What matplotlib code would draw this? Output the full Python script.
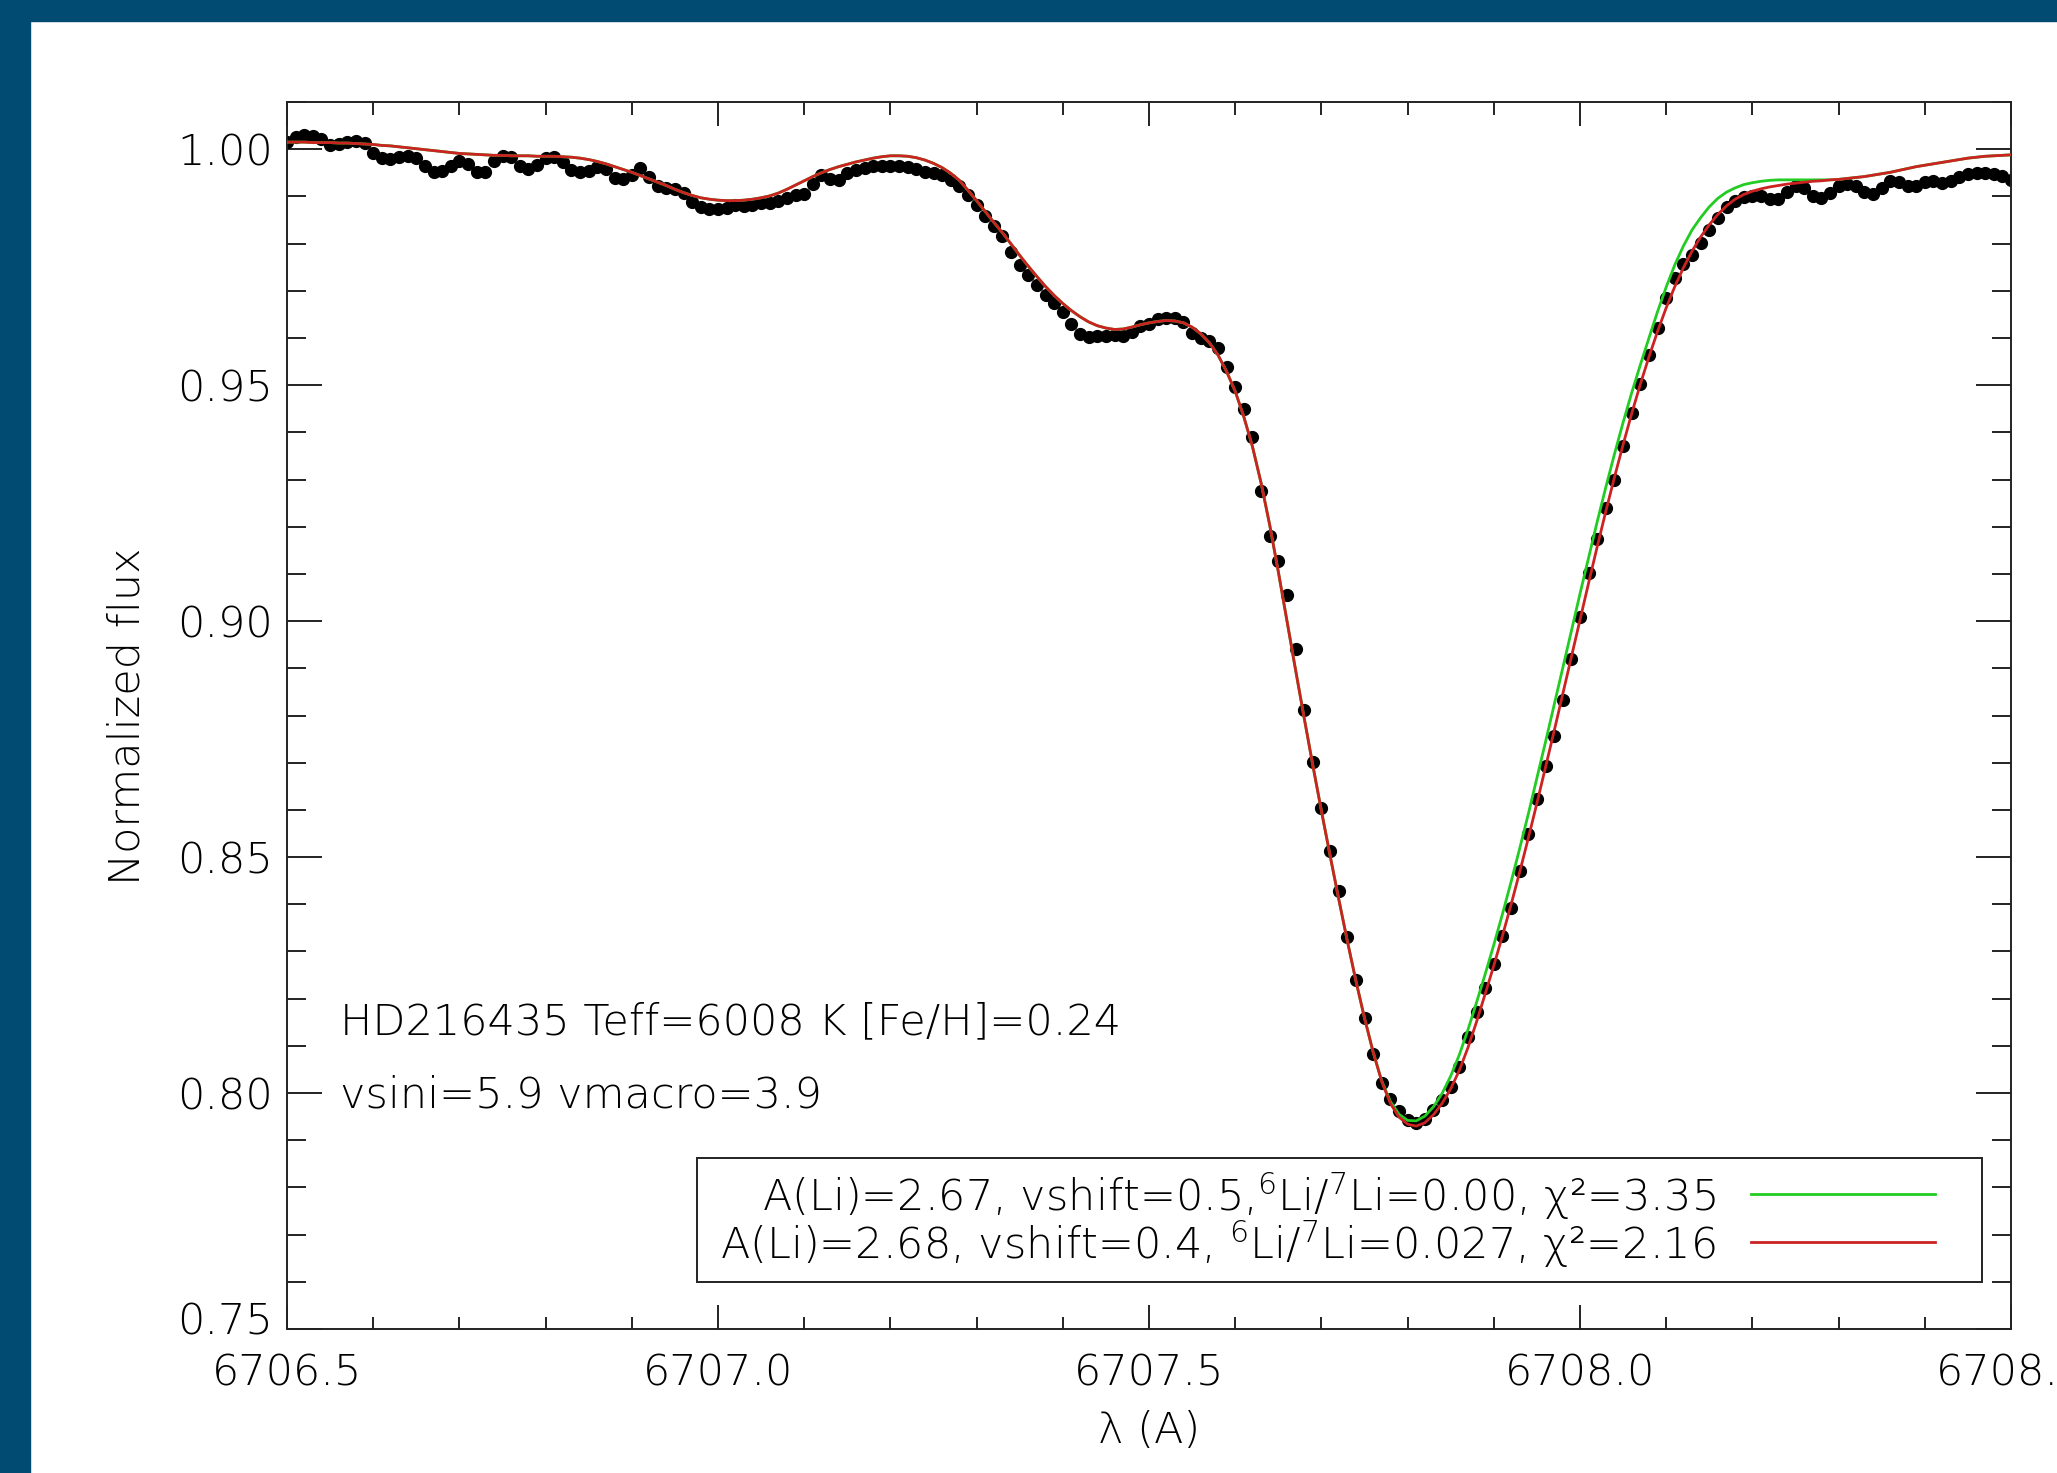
import numpy as np
import matplotlib.pyplot as plt
from matplotlib.patches import Rectangle
from matplotlib.ticker import MultipleLocator, FormatStrFormatter
from matplotlib.transforms import ScaledTranslation

plt.rcParams['font.family'] = ['DejaVu Sans']
plt.rcParams['font.weight'] = 'light'
plt.rcParams['mathtext.fontset'] = 'custom'
plt.rcParams['mathtext.rm'] = 'DejaVu Sans:light'
plt.rcParams['mathtext.it'] = 'DejaVu Sans:italic'
plt.rcParams['mathtext.bf'] = 'DejaVu Sans:bold'

# wavelength grid of the spectrum (Angstrom)
wave_start = 6706.50
wave_step = 0.01

# observed normalized flux, 6706.50 ... 6708.50
obs_flux = [
    1.0016, 1.0026, 1.0030, 1.0028, 1.0022, 1.0008, 1.0010, 1.0016, 1.0018, 1.0014,
    0.9991, 0.9981, 0.9979, 0.9984, 0.9986, 0.9982, 0.9964, 0.9951, 0.9953, 0.9964,
    0.9974, 0.9968, 0.9952, 0.9951, 0.9974, 0.9986, 0.9984, 0.9964, 0.9958, 0.9966,
    0.9981, 0.9984, 0.9972, 0.9956, 0.9951, 0.9954, 0.9962, 0.9958, 0.9940, 0.9936,
    0.9946, 0.9960, 0.9942, 0.9921, 0.9917, 0.9916, 0.9908, 0.9889, 0.9878, 0.9874,
    0.9873, 0.9876, 0.9881, 0.9880, 0.9882, 0.9885, 0.9887, 0.9891, 0.9896, 0.9902,
    0.9906, 0.9926, 0.9946, 0.9936, 0.9934, 0.9950, 0.9955, 0.9960, 0.9964, 0.9965,
    0.9965, 0.9965, 0.9963, 0.9958, 0.9952, 0.9950, 0.9946, 0.9935, 0.9922, 0.9903,
    0.9882, 0.9858, 0.9837, 0.9815, 0.9783, 0.9755, 0.9733, 0.9712, 0.9692, 0.9674,
    0.9656, 0.9630, 0.9608, 0.9602, 0.9604, 0.9605, 0.9606, 0.9605, 0.9612, 0.9625,
    0.9630, 0.9640, 0.9642, 0.9642, 0.9634, 0.9610, 0.9600, 0.9594, 0.9578, 0.9538,
    0.9497, 0.9450, 0.9390, 0.9275, 0.9180, 0.9128, 0.9055, 0.8940, 0.8812, 0.8702,
    0.8604, 0.8512, 0.8428, 0.8330, 0.8240, 0.8160, 0.8082, 0.8022, 0.7988, 0.7962,
    0.7943, 0.7936, 0.7945, 0.7963, 0.7985, 0.8013, 0.8055, 0.8118, 0.8171, 0.8222,
    0.8274, 0.8333, 0.8393, 0.8470, 0.8549, 0.8623, 0.8692, 0.8756, 0.8833, 0.8920,
    0.9009, 0.9101, 0.9175, 0.9240, 0.9300, 0.9372, 0.9440, 0.9502, 0.9563, 0.9622,
    0.9684, 0.9728, 0.9756, 0.9776, 0.9801, 0.9829, 0.9855, 0.9878, 0.9891, 0.9898,
    0.9900, 0.9900, 0.9895, 0.9895, 0.9909, 0.9921, 0.9917, 0.9900, 0.9896, 0.9908,
    0.9921, 0.9926, 0.9922, 0.9909, 0.9904, 0.9917, 0.9933, 0.9930, 0.9921, 0.9922,
    0.9931, 0.9932, 0.9928, 0.9932, 0.9941, 0.9947, 0.9950, 0.9950, 0.9948, 0.9943,
    0.9935,
]

# synthetic fit with 6Li/7Li=0.027 (red)
fit_li6 = [
    1.0015, 1.0015, 1.0015, 1.0014, 1.0014, 1.0014, 1.0013, 1.0013, 1.0012, 1.0011,
    1.0010, 1.0008, 1.0007, 1.0005, 1.0003, 1.0001, 0.9999, 0.9997, 0.9995, 0.9993,
    0.9991, 0.9990, 0.9989, 0.9988, 0.9987, 0.9987, 0.9986, 0.9986, 0.9986, 0.9985,
    0.9985, 0.9985, 0.9984, 0.9983, 0.9981, 0.9978, 0.9974, 0.9969, 0.9963, 0.9957,
    0.9951, 0.9944, 0.9937, 0.9930, 0.9923, 0.9915, 0.9908, 0.9902, 0.9897, 0.9894,
    0.9892, 0.9891, 0.9891, 0.9892, 0.9894, 0.9897, 0.9901, 0.9907, 0.9915, 0.9924,
    0.9933, 0.9942, 0.9950, 0.9957, 0.9963, 0.9968, 0.9973, 0.9977, 0.9981, 0.9984,
    0.9986, 0.9986, 0.9985, 0.9982, 0.9977, 0.9970, 0.9961, 0.9949, 0.9934, 0.9913,
    0.9891, 0.9868, 0.9845, 0.9823, 0.9799, 0.9775, 0.9752, 0.9730, 0.9709, 0.9690,
    0.9673, 0.9658, 0.9645, 0.9634, 0.9626, 0.9621, 0.9618, 0.9619, 0.9623, 0.9628,
    0.9632, 0.9635, 0.9637, 0.9636, 0.9632, 0.9623, 0.9609, 0.9590, 0.9564, 0.9529,
    0.9487, 0.9433, 0.9370, 0.9293, 0.9204, 0.9105, 0.9001, 0.8897, 0.8795, 0.8695,
    0.8598, 0.8504, 0.8412, 0.8323, 0.8238, 0.8159, 0.8087, 0.8024, 0.7978, 0.7949,
    0.7934, 0.7930, 0.7937, 0.7954, 0.7978, 0.8009, 0.8048, 0.8096, 0.8151, 0.8210,
    0.8270, 0.8333, 0.8399, 0.8468, 0.8540, 0.8614, 0.8690, 0.8767, 0.8845, 0.8924,
    0.9003, 0.9081, 0.9158, 0.9233, 0.9305, 0.9374, 0.9440, 0.9502, 0.9560, 0.9614,
    0.9664, 0.9709, 0.9749, 0.9784, 0.9814, 0.9840, 0.9862, 0.9880, 0.9894, 0.9904,
    0.9911, 0.9916, 0.9920, 0.9923, 0.9926, 0.9928, 0.9930, 0.9932, 0.9933, 0.9935,
    0.9936, 0.9938, 0.9940, 0.9942, 0.9945, 0.9948, 0.9951, 0.9955, 0.9959, 0.9963,
    0.9966, 0.9969, 0.9972, 0.9975, 0.9978, 0.9981, 0.9983, 0.9985, 0.9986, 0.9987,
    0.9988,
]

# synthetic fit without 6Li (green)
fit_li7 = [
    1.0015, 1.0015, 1.0015, 1.0014, 1.0014, 1.0014, 1.0013, 1.0013, 1.0012, 1.0011,
    1.0010, 1.0008, 1.0007, 1.0005, 1.0003, 1.0001, 0.9999, 0.9997, 0.9995, 0.9993,
    0.9991, 0.9990, 0.9989, 0.9988, 0.9987, 0.9987, 0.9986, 0.9986, 0.9986, 0.9985,
    0.9985, 0.9985, 0.9984, 0.9983, 0.9981, 0.9978, 0.9974, 0.9969, 0.9963, 0.9957,
    0.9951, 0.9944, 0.9937, 0.9930, 0.9923, 0.9915, 0.9908, 0.9902, 0.9897, 0.9894,
    0.9892, 0.9891, 0.9891, 0.9892, 0.9894, 0.9897, 0.9901, 0.9907, 0.9915, 0.9924,
    0.9933, 0.9942, 0.9950, 0.9957, 0.9963, 0.9968, 0.9973, 0.9977, 0.9981, 0.9984,
    0.9986, 0.9986, 0.9985, 0.9982, 0.9977, 0.9970, 0.9961, 0.9949, 0.9934, 0.9913,
    0.9891, 0.9868, 0.9845, 0.9823, 0.9799, 0.9775, 0.9752, 0.9730, 0.9709, 0.9690,
    0.9673, 0.9658, 0.9645, 0.9634, 0.9626, 0.9621, 0.9618, 0.9619, 0.9623, 0.9628,
    0.9632, 0.9635, 0.9637, 0.9636, 0.9632, 0.9623, 0.9609, 0.9590, 0.9564, 0.9529,
    0.9487, 0.9433, 0.9370, 0.9293, 0.9204, 0.9105, 0.9001, 0.8897, 0.8795, 0.8695,
    0.8598, 0.8504, 0.8412, 0.8323, 0.8238, 0.8159, 0.8087, 0.8026, 0.7982, 0.7955,
    0.7942, 0.7941, 0.7951, 0.7971, 0.7999, 0.8036, 0.8081, 0.8134, 0.8192, 0.8252,
    0.8314, 0.8379, 0.8447, 0.8518, 0.8591, 0.8667, 0.8744, 0.8822, 0.8900, 0.8979,
    0.9058, 0.9135, 0.9211, 0.9284, 0.9354, 0.9421, 0.9484, 0.9543, 0.9600, 0.9656,
    0.9708, 0.9755, 0.9795, 0.9829, 0.9855, 0.9878, 0.9896, 0.9909, 0.9918, 0.9925,
    0.9929, 0.9932, 0.9934, 0.9935, 0.9935, 0.9935, 0.9935, 0.9935, 0.9935, 0.9935,
    0.9936, 0.9938, 0.9940, 0.9942, 0.9945, 0.9948, 0.9951, 0.9955, 0.9959, 0.9963,
    0.9966, 0.9969, 0.9972, 0.9975, 0.9978, 0.9981, 0.9983, 0.9985, 0.9986, 0.9987,
    0.9988,
]

star_info = "HD216435 Teff=6008 K [Fe/H]=0.24"
broadening_info = "vsini=5.9 vmacro=3.9"
label_li7 = "A(Li)=2.67, vshift=0.5,$^{6}$Li/$^{7}$Li=0.00, χ²=3.35"
label_li6 = "A(Li)=2.68, vshift=0.4, $^{6}$Li/$^{7}$Li=0.027, χ²=2.16"

wave = wave_start + wave_step * np.arange(len(obs_flux))

W, H = 2057, 1473
fig = plt.figure(figsize=(W / 100, H / 100), dpi=100)
fig.patch.set_facecolor('white')

# dark blue slide frame (top and left)
frame_blue = '#014b73'
fig.add_artist(Rectangle((0, 1 - 21 / H), 1, 21 / H, transform=fig.transFigure,
                         color=frame_blue, zorder=0))
fig.add_artist(Rectangle((0, 0), 30 / W, 1, transform=fig.transFigure,
                         color=frame_blue, zorder=0))

ax = fig.add_axes([287 / W, 1 - 1329 / H, 1724 / W, 1227 / H])
ax.plot(wave, obs_flux, 'o', color='black', ms=8.5, zorder=2)
ax.plot(wave, fit_li7, color='#22cc22', lw=2.0, zorder=3)
ax.plot(wave, fit_li6, color='#cc2222', lw=2.0, zorder=4)

ax.set_xlim(6706.5, 6708.5)
ax.set_ylim(0.75, 1.01)
ax.xaxis.set_major_locator(MultipleLocator(0.5))
ax.xaxis.set_minor_locator(MultipleLocator(0.1))
ax.yaxis.set_major_locator(MultipleLocator(0.05))
ax.yaxis.set_minor_locator(MultipleLocator(0.01))
ax.xaxis.set_major_formatter(FormatStrFormatter('%.1f'))
ax.yaxis.set_major_formatter(FormatStrFormatter('%.2f'))

ax.tick_params(which='both', direction='in', top=True, right=True,
               width=1.4, labelsize=31, color='#222222')
ax.tick_params(axis='x', which='major', length=17, pad=17)
ax.tick_params(axis='x', which='minor', length=9)
ax.tick_params(axis='y', which='major', length=25, pad=10)
ax.tick_params(axis='y', which='minor', length=14)
for s in ax.spines.values():
    s.set_linewidth(1.4)
    s.set_color('#222222')

# IDL lifts the lowest y label off the corner
fig.canvas.draw()
for lab in ax.get_yticklabels():
    if lab.get_text() == '0.75':
        lab.set_transform(lab.get_transform() + ScaledTranslation(0, 11 / 100, fig.dpi_scale_trans))

fig.text(127 / W, 1 - 716 / H, "Normalized flux", rotation=90,
         ha='center', va='center', fontsize=31)
fig.text(1149 / W, 1 - 1430 / H, "λ (A)", ha='center', va='center', fontsize=31)

ax.text(0.031, 0.250, star_info, transform=ax.transAxes, fontsize=31, va='center')
ax.text(0.031, 0.191, broadening_info, transform=ax.transAxes, fontsize=31, va='center')

# legend box drawn IDL style: text right aligned, line sample on the right
ax.add_patch(Rectangle((0.2378, 0.0383), 0.9832 - 0.2378, 0.1394 - 0.0383,
                       transform=ax.transAxes, fill=False, lw=1.4,
                       edgecolor='#222222', zorder=5))
ax.text(0.8289, 0.108, label_li7, transform=ax.transAxes, fontsize=31,
        ha='right', va='center', zorder=6)
ax.text(0.8289, 0.069, label_li6, transform=ax.transAxes, fontsize=31,
        ha='right', va='center', zorder=6)
ax.plot([0.8492, 0.9559], [0.110, 0.110], color='#22cc22', lw=2.0,
        transform=ax.transAxes, zorder=6)
ax.plot([0.8492, 0.9559], [0.071, 0.071], color='#cc2222', lw=2.0,
        transform=ax.transAxes, zorder=6)

fig.savefig('out.png', dpi=100)
